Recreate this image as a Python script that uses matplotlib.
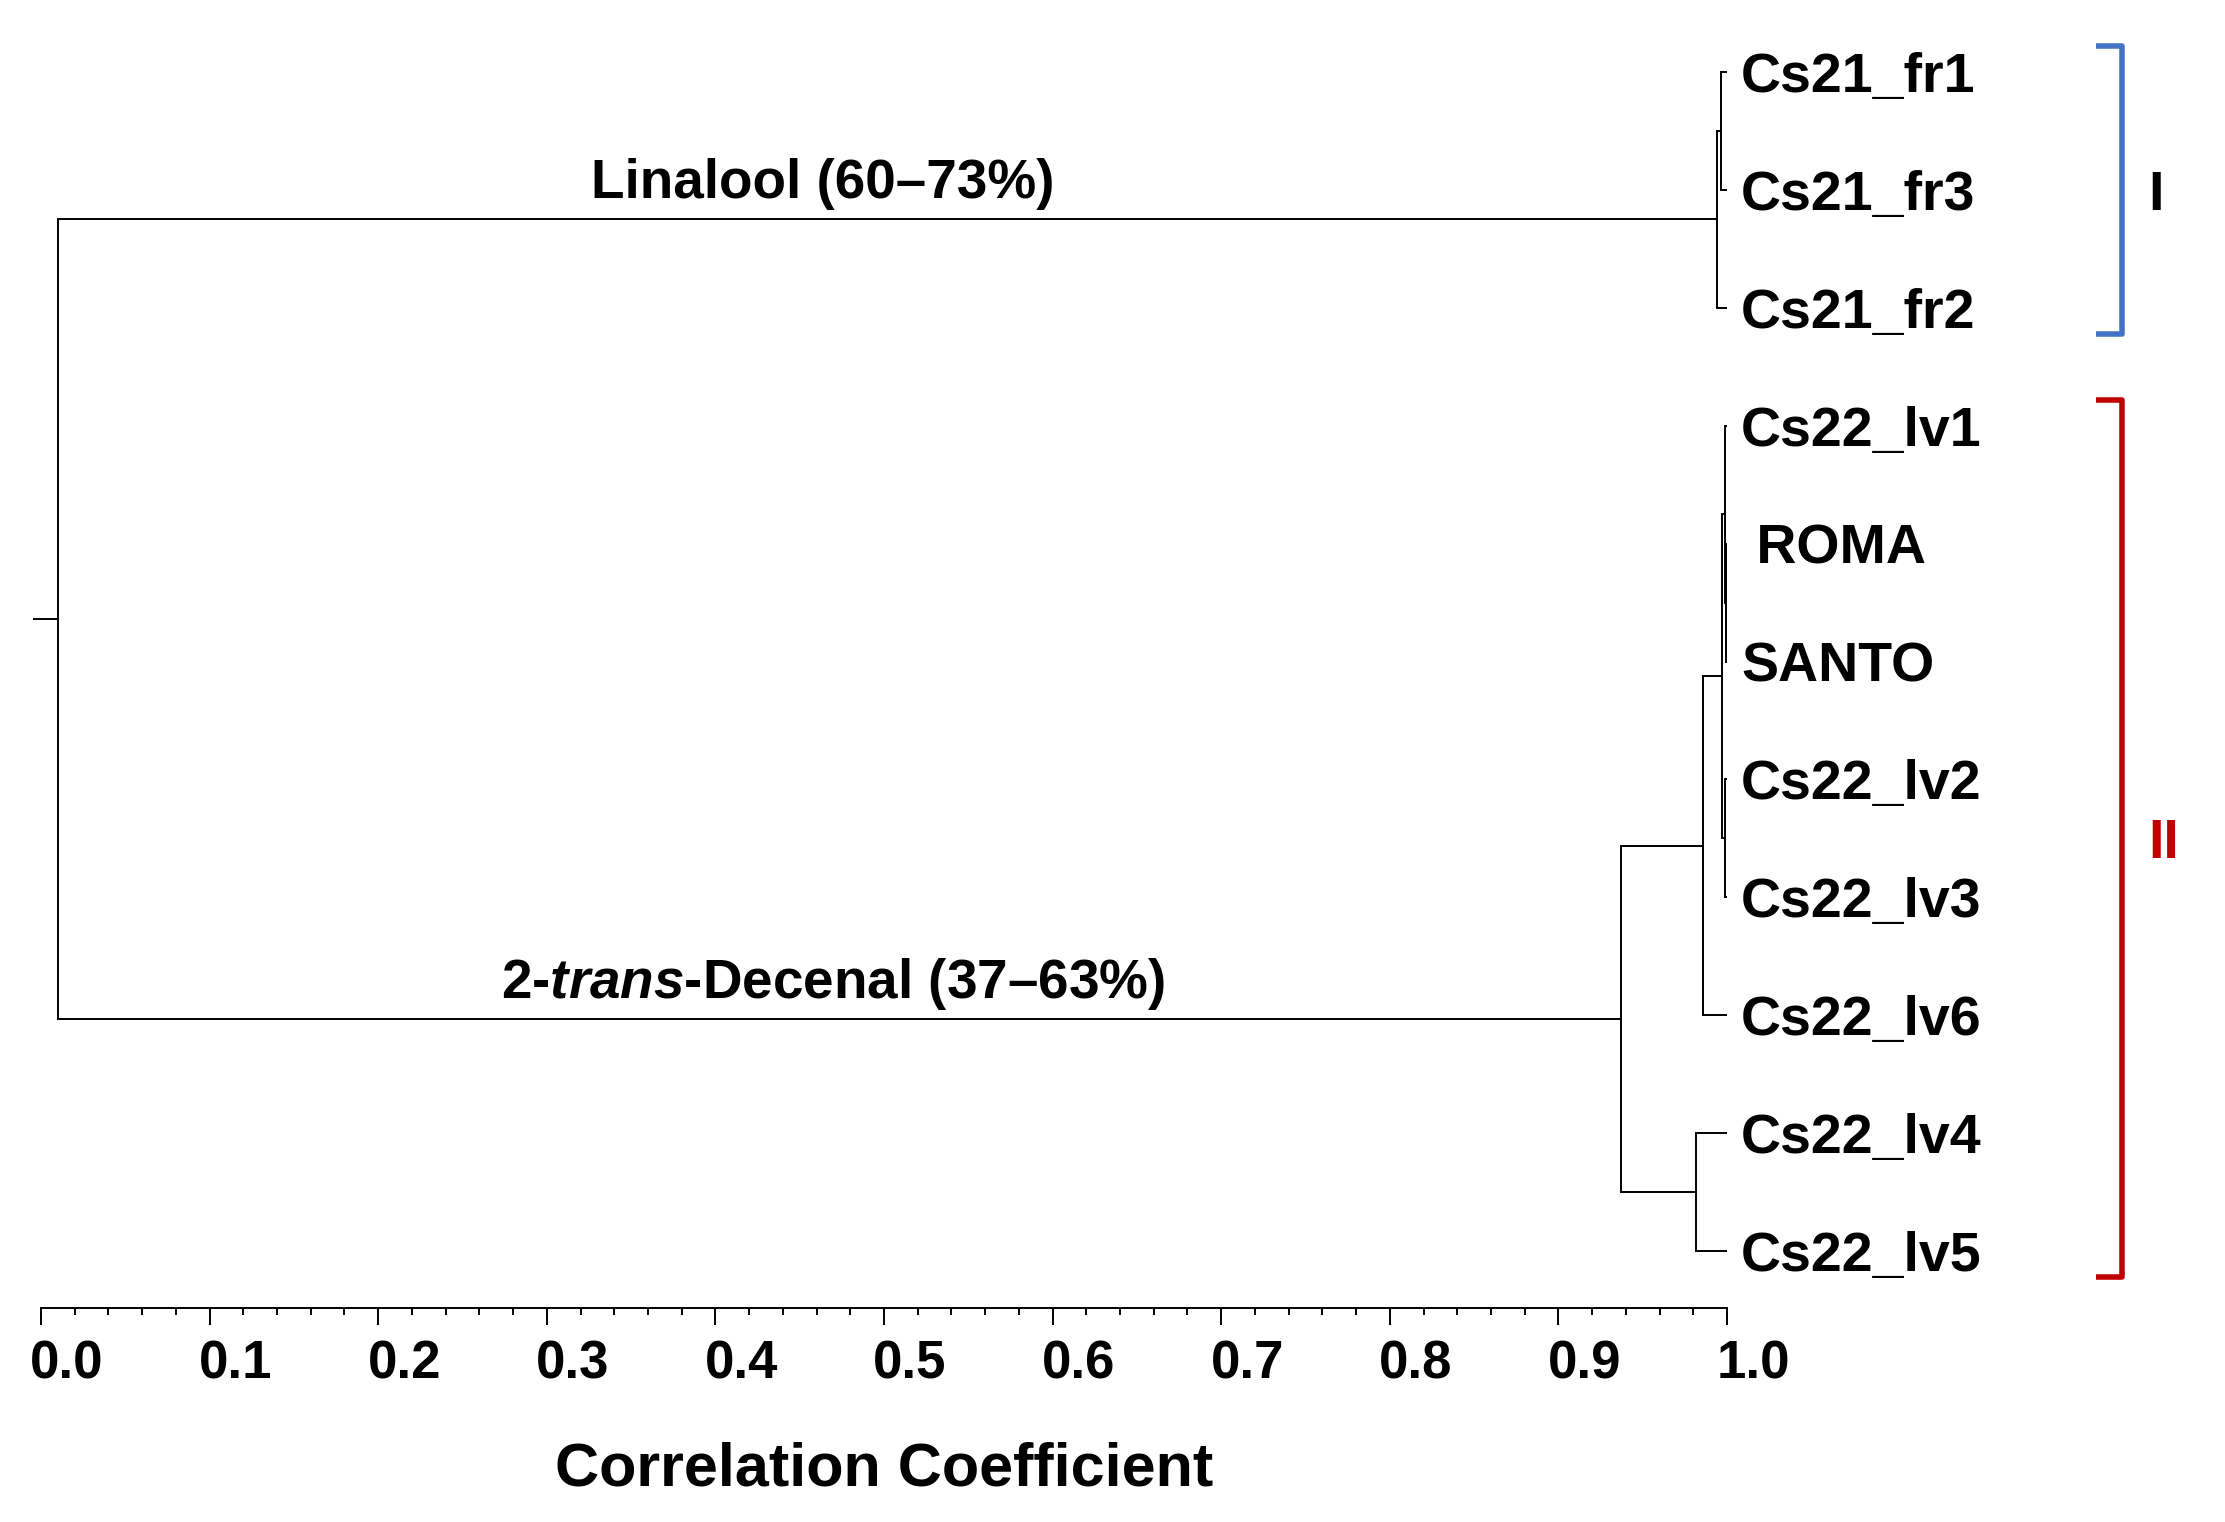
import matplotlib
matplotlib.use("Agg")
import matplotlib.pyplot as plt
from matplotlib import transforms
from matplotlib.ticker import MultipleLocator

plt.rcParams['font.family'] = ['Liberation Sans', 'DejaVu Sans']
plt.rcParams['font.weight'] = 'bold'
plt.rcParams['mathtext.fontset'] = 'custom'
plt.rcParams['mathtext.rm'] = 'Liberation Sans:bold'
plt.rcParams['mathtext.it'] = 'Liberation Sans:italic:bold'

# ---------------- data ----------------
leaves = ["Cs21_fr1", "Cs21_fr3", "Cs21_fr2", "Cs22_lv1", " ROMA", "SANTO",
          "Cs22_lv2", "Cs22_lv3", "Cs22_lv6", "Cs22_lv4", "Cs22_lv5"]
# merges: (child a, child b, correlation at join); ids >= len(leaves) are earlier merges
merge_a = [4, 3, 6, 0, 12, 14, 15, 9, 17, 16]
merge_b = [5, 11, 7, 1, 13, 2, 8, 10, 18, 19]
merge_h = [0.9995, 0.9988, 0.9990, 0.9962, 0.9968, 0.9942, 0.9857, 0.9818, 0.9370, 0.0098]

branch_texts = ["Linalool (60–73%)", r"2-$\mathit{trans}$-Decenal (37–63%)"]
branch_nodes = [16, 19]   # node ids of cluster I and cluster II

cluster_names = ["I", "II"]
cluster_first = [0, 3]
cluster_last = [2, 10]

xticks = [0.0, 0.1, 0.2, 0.3, 0.4, 0.5, 0.6, 0.7, 0.8, 0.9, 1.0]
xlabel = "Correlation Coefficient"

# ---------------- figure ----------------
W, H, DPI = 2225, 1522, 100
fig = plt.figure(figsize=(W / DPI, H / DPI), dpi=DPI)
ax = fig.add_axes([41 / W, 1 - 1308 / H, 1686 / W, 1308 / H])
ax.set_xlim(0, 1)
ax.set_ylim(10.483, -0.611)

LW = 1.4
n = len(leaves)
pos = {i: (1.0, float(i)) for i in range(n)}
for k, (a, b, h) in enumerate(zip(merge_a, merge_b, merge_h)):
    xa, ya = pos[a]
    xb, yb = pos[b]
    ax.plot([xa, h, h, xb], [ya, ya, yb, yb], color='black', lw=LW,
            clip_on=False, solid_joinstyle='miter', solid_capstyle='butt')
    pos[n + k] = (h, (ya + yb) / 2)

# root stub
rx, ry = pos[n + len(merge_h) - 1]
ax.plot([rx, rx - 0.0145], [ry, ry], color='black', lw=LW, clip_on=False,
        solid_capstyle='butt')

# leaf labels
leaf_tr = transforms.offset_copy(ax.transData, fig=fig, x=14, y=-20, units='dots')
for i, name in enumerate(leaves):
    ax.text(1.0, i, name, transform=leaf_tr, ha='left', va='baseline',
            fontsize=40, fontweight='bold', clip_on=False)

# branch annotations
br_tr = transforms.offset_copy(ax.transData, fig=fig, x=0, y=21, units='dots')
for txt, node, xc in zip(branch_texts, branch_nodes, [0.4638, 0.470]):
    ax.text(xc, pos[node][1], txt, transform=br_tr, ha='center',
            va='baseline', fontsize=39.5, fontweight='bold')

# cluster brackets
bracket_colors = ['#4472C4', '#C00000']
label_colors = ['black', '#C00000']
lab_tr = transforms.offset_copy(ax.transData, fig=fig, x=0, y=-20, units='dots')
for name, f, l, bc, lc in zip(cluster_names, cluster_first, cluster_last,
                              bracket_colors, label_colors):
    ax.plot([1.219, 1.234, 1.234, 1.219], [f - 0.22, f - 0.22, l + 0.22, l + 0.22],
            color=bc, lw=4, clip_on=False, solid_joinstyle='round',
            solid_capstyle='butt')
    ax.text(1.250, (f + l) / 2, name, transform=lab_tr, ha='left',
            va='baseline', fontsize=40, fontweight='bold', color=lc,
            clip_on=False)

# axes styling
for s in ['left', 'top', 'right']:
    ax.spines[s].set_visible(False)
ax.spines['bottom'].set_bounds(0, 1)
ax.spines['bottom'].set_linewidth(LW)
ax.set_yticks([])
ax.set_xticks(xticks)
ax.set_xticklabels([f"{t:.1f}" for t in xticks])
ax.xaxis.set_minor_locator(MultipleLocator(0.02))
ax.tick_params(axis='x', which='major', length=12.2, width=LW, direction='out',
               pad=10.8, labelsize=38)
ax.tick_params(axis='x', which='minor', length=5, width=LW, direction='out')
for lab in ax.get_xticklabels():
    lab.set_fontweight('bold')
    lab.set_transform(lab.get_transform() +
                      transforms.ScaledTranslation(0.26, 0, fig.dpi_scale_trans))

ax.set_xlabel(xlabel, fontsize=44, fontweight='bold')
ax.xaxis.set_label_coords(0.5, 1 - 1442 / H,
                          transform=transforms.blended_transform_factory(ax.transAxes, fig.transFigure))

fig.savefig("out.png", dpi=DPI)
